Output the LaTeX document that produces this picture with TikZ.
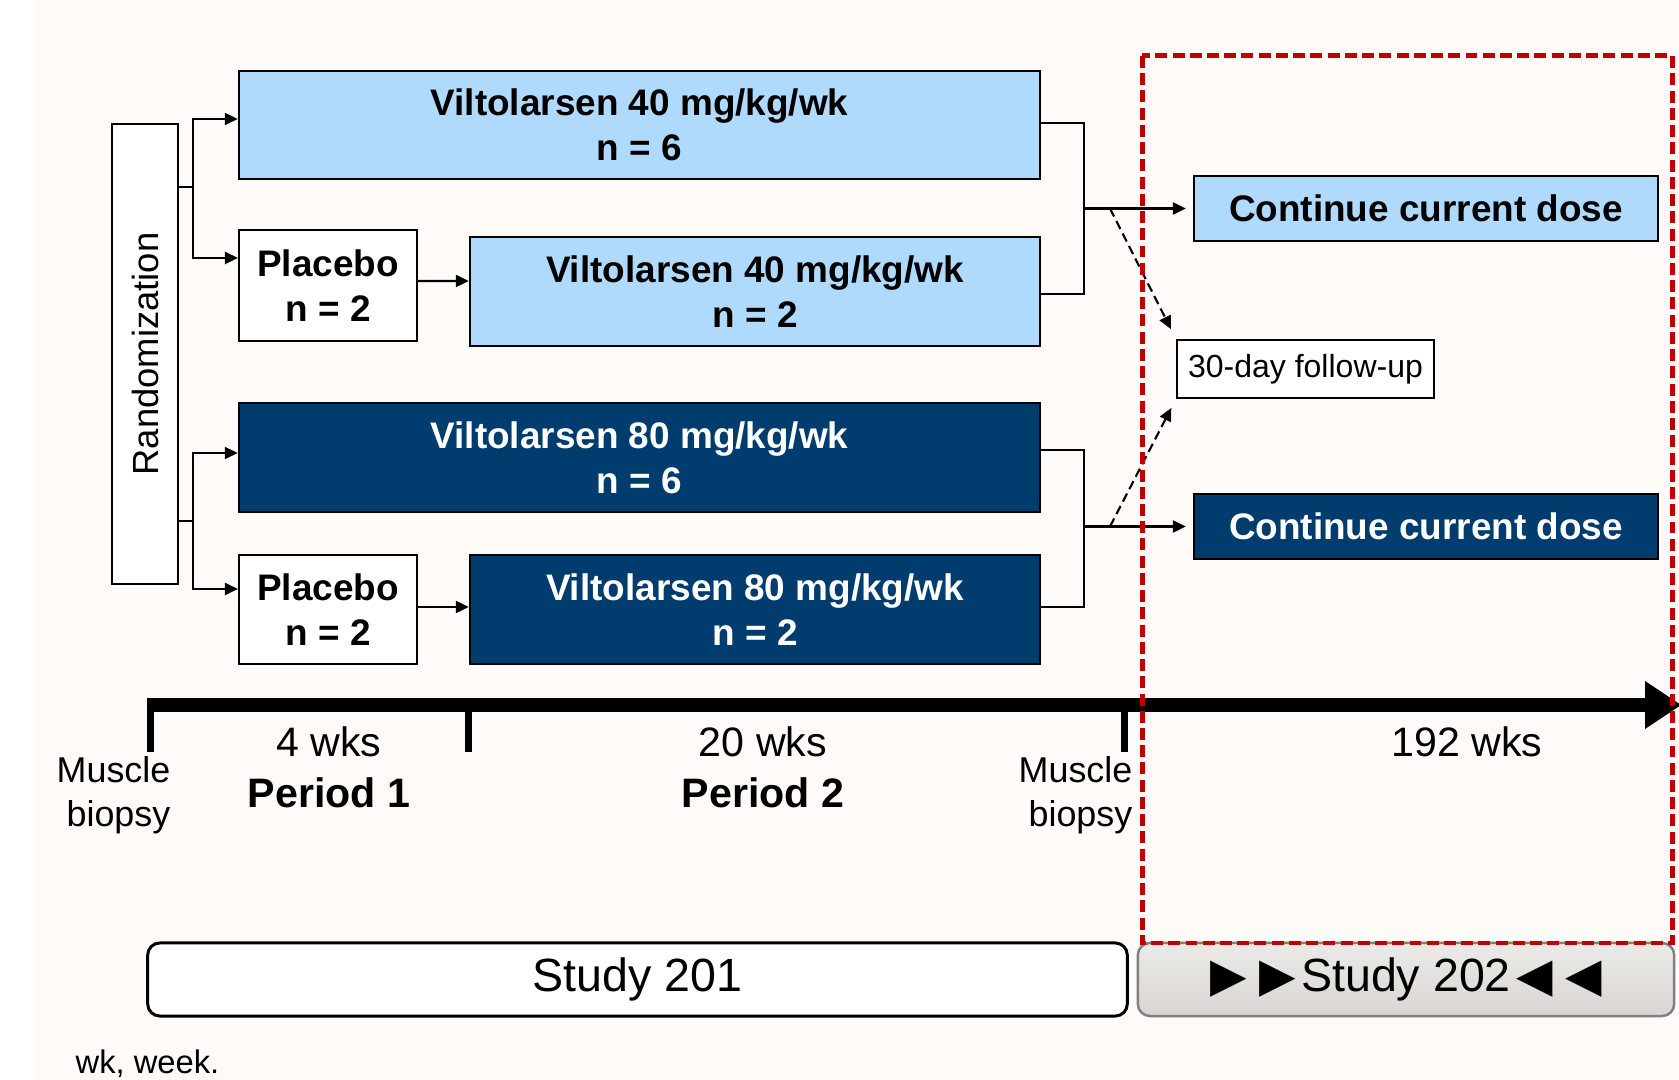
\documentclass[tikz,border=0pt]{standalone}
\usepackage{fontspec}
\setmainfont{Liberation Sans}
\newfontfamily\symfont{DejaVu Sans}
\usetikzlibrary{arrows.meta,calc}
\definecolor{bgc}{RGB}{253,250,247}
\definecolor{lblue}{RGB}{175,218,252}
\definecolor{navy}{RGB}{0,61,110}
\definecolor{dred}{RGB}{192,0,0}
\definecolor{gtop}{RGB}{236,234,231}
\definecolor{gbot}{RGB}{216,213,210}
\definecolor{gline}{RGB}{128,128,128}
\tikzset{
  boxbase/.style={draw=black, line width=0.57pt, align=center, inner sep=0pt,
    font=\bfseries\fontsize{10.5}{12.8}\selectfont},
  lbox/.style={boxbase, fill=lblue},
  dbox/.style={boxbase, fill=navy, text=white},
  wbox/.style={boxbase, fill=white},
  conn/.style={line width=0.6pt},
  arr/.style={conn, -{Triangle[length=0.13cm,width=0.12cm]}},
  darr/.style={arr, dash pattern=on 0.09cm off 0.05cm},
  wkslab/.style={font=\fontsize{11.7}{14}\selectfont, inner sep=0pt, anchor=base},
  perlab/.style={font=\bfseries\fontsize{11.7}{14}\selectfont, inner sep=0pt, anchor=base},
  biolab/.style={font=\fontsize{10.2}{12.5}\selectfont, align=right, inner sep=0pt, anchor=east},
  tick/.style={line width=2pt},
  studybox/.style={rounded corners=0.12cm, minimum width=9.79cm, minimum height=0.73cm,
    inner sep=0pt, font=\fontsize{13.25}{15}\selectfont}
}
\newcommand{\rtri}{{\symfont\fontsize{13.5}{15}\selectfont ▶}}
\newcommand{\ltri}{{\symfont\fontsize{13.5}{15}\selectfont ◀}}
\begin{document}
\begin{tikzpicture}[x=0.01cm, y=-0.01cm]
\useasboundingbox (0,0) rectangle (1679,1080);
\fill[white] (0,0) rectangle (1679,1080);
\fill[bgc] (35,0) rectangle (1679,1080);

% treatment boxes
\node[lbox, minimum width=8.01cm, minimum height=1.08cm] (v40a) at (639.5,125) {Viltolarsen 40 mg/kg/wk\\n = 6};
\node[wbox, minimum width=1.78cm, minimum height=1.11cm] (p1) at (328,285.5) {Placebo\\n = 2};
\node[lbox, minimum width=5.70cm, minimum height=1.09cm] (v40b) at (755,291.5) {Viltolarsen 40 mg/kg/wk\\n = 2};
\node[dbox, minimum width=8.01cm, minimum height=1.09cm] (v80a) at (639.5,457.5) {Viltolarsen 80 mg/kg/wk\\n = 6};
\node[wbox, minimum width=1.78cm, minimum height=1.09cm] (p2) at (328,609.5) {Placebo\\n = 2};
\node[dbox, minimum width=5.70cm, minimum height=1.09cm] (v80b) at (755,609.5) {Viltolarsen 80 mg/kg/wk\\n = 2};
\node[wbox, rotate=90, minimum width=4.60cm, minimum height=0.66cm, font=\fontsize{10.35}{12}\selectfont] (rand) at (145,354) {Randomization};
\node[lbox, minimum width=4.64cm, minimum height=0.65cm] (c1) at (1426,208.5) {Continue current dose};
\node[dbox, minimum width=4.64cm, minimum height=0.65cm] (c2) at (1426,526.5) {Continue current dose};
\node[wbox, font=\fontsize{9.1}{11}\selectfont, minimum width=2.57cm, minimum height=0.58cm] (fu) at (1305.5,369) {30-day follow-up};

% randomization connectors
\coordinate (r1) at (193,187);
\coordinate (r2) at (193,521);
\draw[conn] (rand.south |- r1) -- (r1);
\draw[arr] (r1) |- ([yshift=0.06cm]v40a.west);
\draw[arr] (r1) |- ([yshift=0.275cm]p1.west);
\draw[conn] (rand.south |- r2) -- (r2);
\draw[arr] (r2) |- ([yshift=0.045cm]v80a.west);
\draw[arr] (r2) |- ([yshift=0.205cm]p2.west);

% placebo to active
\draw[arr] ([yshift=0.045cm]p1.east) -- ([yshift=0.105cm]v40b.west);
\draw[arr] ([yshift=0.025cm]p2.east) -- ([yshift=0.025cm]v80b.west);

% right brackets
\coordinate (j1) at (1084,208.5);
\coordinate (j2) at (1084,526.5);
\draw[conn] ([yshift=0.02cm]v40a.east) -| (j1) |- ([yshift=-0.025cm]v40b.east);
\draw[arr, shorten >=0.07cm] (j1) -- (c1.west);
\draw[conn] ([yshift=0.075cm]v80a.east) -| (j2) |- ([yshift=0.025cm]v80b.east);
\draw[arr, shorten >=0.07cm] (j2) -- (c2.west);
\coordinate (d1) at (1110,208.5);
\coordinate (d2) at (1110,526.5);
\draw[darr, shorten >=0.11cm] (d1) -- (fu.north west);
\draw[darr, shorten >=0.10cm] (d2) -- (fu.south west);

% timeline
\draw[line width=4pt] (147,705) -- (1646,705);
\fill (1645,681) -- (1681,705) -- (1645,729) -- cycle;
\draw[tick] (150.5,700) -- (150.5,752);
\draw[tick] (468.5,700) -- (468.5,752);
\draw[tick] (1124.5,700) -- (1124.5,752);

\node[biolab] (mb1) at (171,795) {Muscle\\biopsy};
\node[biolab] (mb2) at (1133,795) {Muscle\\biopsy};
\node[wkslab] (w4) at (329,757) {4 wks};
\node[perlab] (per1) at (329,808) {Period 1};
\node[wkslab] (w20) at (763,757) {20 wks};
\node[perlab] (per2) at (763,808) {Period 2};
\node[wkslab] (w192) at (1467,757) {192 wks};

% study boxes
\node[studybox, draw=black, line width=0.85pt, fill=white] (s201) at (637.5,979.5) {Study 201};
\node[studybox, draw=gline, line width=0.7pt, top color=gtop, bottom color=gbot, minimum width=5.36cm] (s202) at (1406,979.5) {\rtri\hspace{3.5pt}\rtri\hspace{1.5pt}Study 202\hspace{1.5pt}\ltri\hspace{3.5pt}\ltri};

% red dashed frame
\draw[dred, line width=1.42pt, dash pattern=on 3.4pt off 1.5pt] (1142,56) rectangle (1672,943);

\node[anchor=base west, inner sep=0pt, font=\fontsize{9.3}{11}\selectfont] (note) at (75,1073) {wk, week.};
\end{tikzpicture}
\end{document}
